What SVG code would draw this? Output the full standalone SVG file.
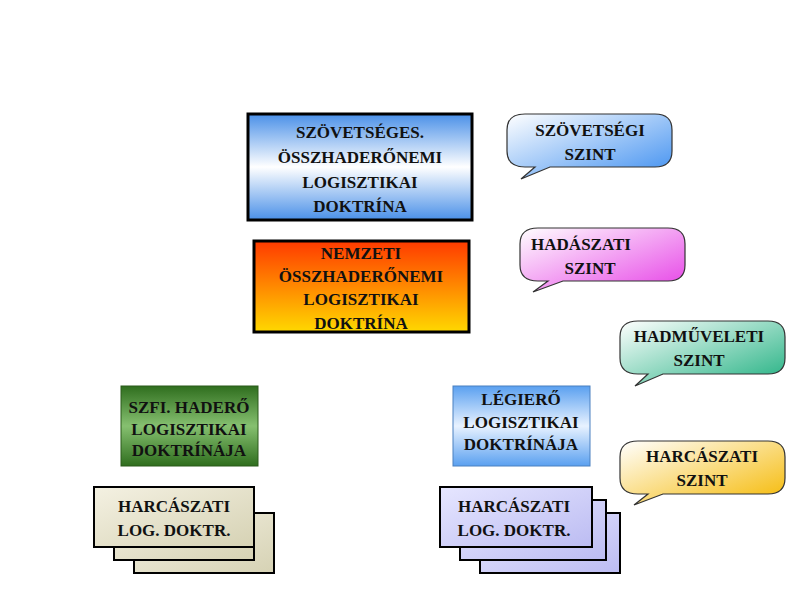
<svg xmlns="http://www.w3.org/2000/svg" width="798" height="598" viewBox="0 0 798 598">
<style>
text{font-family:"Liberation Serif",serif;font-weight:bold;font-size:17px;fill:#111;text-anchor:middle}
.b{stroke:#000;stroke-width:3}
.s{stroke:#000;stroke-width:2}
.bub{stroke:#333;stroke-width:1.2}
</style>
<defs>
<linearGradient id="g1" x1="0" y1="0" x2="0" y2="1"><stop offset="0" stop-color="#4a90e8"/><stop offset="0.5" stop-color="#ffffff"/><stop offset="1" stop-color="#4a90e8"/></linearGradient>
<linearGradient id="g2" x1="0" y1="0" x2="0" y2="1"><stop offset="0" stop-color="#ff3a00"/><stop offset="1" stop-color="#ffd800"/></linearGradient>
<linearGradient id="gb" x1="0" y1="0" x2="1" y2="1"><stop offset="0" stop-color="#ffffff"/><stop offset="1" stop-color="#3d8ef0"/></linearGradient>
<linearGradient id="gp" x1="0" y1="0" x2="1" y2="1"><stop offset="0" stop-color="#ffffff"/><stop offset="1" stop-color="#e640e6"/></linearGradient>
<linearGradient id="gg" x1="0" y1="0" x2="1" y2="1"><stop offset="0" stop-color="#ffffff"/><stop offset="1" stop-color="#1fb080"/></linearGradient>
<linearGradient id="gy" x1="0" y1="0" x2="1" y2="1"><stop offset="0" stop-color="#ffffff"/><stop offset="1" stop-color="#f5b800"/></linearGradient>
<linearGradient id="gd" x1="0" y1="0" x2="0" y2="1"><stop offset="0" stop-color="#2f6e1e"/><stop offset="0.5" stop-color="#86c070"/><stop offset="1" stop-color="#2f6e1e"/></linearGradient>
<linearGradient id="gl" x1="0" y1="0" x2="0" y2="1"><stop offset="0" stop-color="#5aa0f0"/><stop offset="0.5" stop-color="#e8f2ff"/><stop offset="1" stop-color="#5aa0f0"/></linearGradient>
<linearGradient id="gk" x1="0" y1="0" x2="1" y2="1"><stop offset="0" stop-color="#f4f1e2"/><stop offset="1" stop-color="#d6d2b4"/></linearGradient>
<linearGradient id="gv" x1="0" y1="0" x2="1" y2="1"><stop offset="0" stop-color="#e6e6ff"/><stop offset="1" stop-color="#bcbcf2"/></linearGradient>
</defs>
<rect width="798" height="598" fill="#fff"/>
<g id="n1"><rect class="b" x="248" y="114" width="224" height="106" fill="url(#g1)"/>
<text x="360" y="138">SZÖVETSÉGES.</text><text x="360" y="163">ÖSSZHADERŐNEMI</text><text x="360" y="188">LOGISZTIKAI</text><text x="360" y="212">DOKTRÍNA</text></g>
<g id="n2"><rect class="b" x="254" y="241" width="215" height="91" fill="url(#g2)"/>
<text x="361" y="259">NEMZETI</text><text x="361" y="282">ÖSSZHADERŐNEMI</text><text x="361" y="305">LOGISZTIKAI</text><text x="361" y="329">DOKTRÍNA</text></g>
<g id="b1"><path class="bub" d="M525,114 H655 Q672,114 672,130 V151 Q672,167 655,167 H550 L521,179 L535,167 H525 Q507,167 507,151 V130 Q507,114 525,114 Z" fill="url(#gb)"/>
<text x="590" y="136">SZÖVETSÉGI</text><text x="590" y="160">SZINT</text></g>
<g id="b2"><path class="bub" d="M538,228 H668 Q685,228 685,244 V265 Q685,281 668,281 H563 L533,292 L548,281 H538 Q520,281 520,265 V244 Q520,228 538,228 Z" fill="url(#gp)"/>
<text x="581" y="250">HADÁSZATI</text><text x="590" y="274">SZINT</text></g>
<g id="b3"><path class="bub" d="M638,321 H768 Q785,321 785,337 V358 Q785,374 768,374 H663 L635,386 L648,374 H638 Q620,374 620,358 V337 Q620,321 638,321 Z" fill="url(#gg)"/>
<text x="699" y="342">HADMŰVELETI</text><text x="699" y="366">SZINT</text></g>
<g id="b4"><path class="bub" d="M638,441 H768 Q785,441 785,457 V478 Q785,494 768,494 H663 L634,505 L648,494 H638 Q620,494 620,478 V457 Q620,441 638,441 Z" fill="url(#gy)"/>
<text x="702" y="462">HARCÁSZATI</text><text x="702" y="486">SZINT</text></g>
<g id="n3"><rect x="121" y="386" width="137" height="80" fill="url(#gd)" stroke="#2a5a1a"/>
<text x="189" y="413">SZFI. HADERŐ</text><text x="189" y="435">LOGISZTIKAI</text><text x="189" y="456">DOKTRÍNÁJA</text></g>
<g id="n4"><rect x="453" y="386" width="137" height="80" fill="url(#gl)" stroke="#4a80c0"/>
<text x="521" y="405">LÉGIERŐ</text><text x="521" y="428">LOGISZTIKAI</text><text x="521" y="450">DOKTRÍNÁJA</text></g>
<g id="n5"><rect class="s" x="134" y="513" width="140" height="60" fill="url(#gk)"/><rect class="s" x="114" y="500" width="140" height="60" fill="url(#gk)"/><rect class="s" x="94" y="487" width="160" height="60" fill="url(#gk)"/>
<text x="174" y="512">HARCÁSZATI</text><text x="174" y="536">LOG. DOKTR.</text></g>
<g id="n6"><rect class="s" x="480" y="513" width="140" height="60" fill="url(#gv)"/><rect class="s" x="460" y="500" width="146" height="60" fill="url(#gv)"/><rect class="s" x="440" y="487" width="152" height="60" fill="url(#gv)"/>
<text x="514" y="512">HARCÁSZATI</text><text x="514" y="536">LOG. DOKTR.</text></g>
<g id="connectors"></g>
</svg>
